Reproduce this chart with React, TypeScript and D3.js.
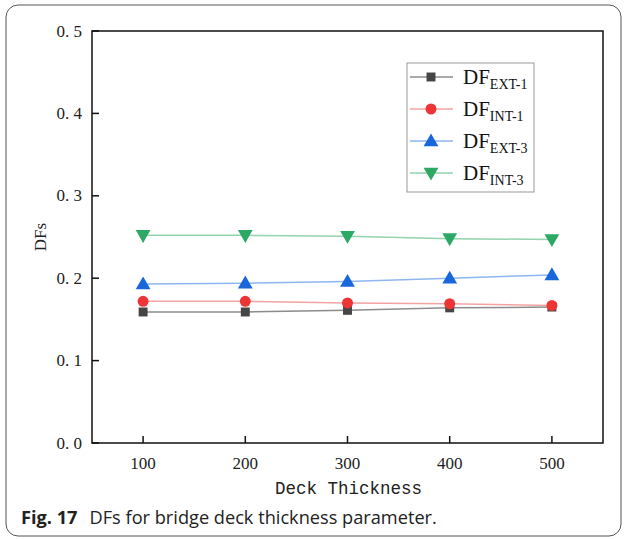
import React from "react";
import * as d3 from "d3";

const thickness = [100, 200, 300, 400, 500];
const dfExt1 = [0.159, 0.159, 0.161, 0.164, 0.165];
const dfInt1 = [0.172, 0.172, 0.170, 0.169, 0.167];
const dfExt3 = [0.193, 0.194, 0.196, 0.200, 0.204];
const dfInt3 = [0.252, 0.252, 0.251, 0.248, 0.247];
const yTicks = [0, 0.1, 0.2, 0.3, 0.4, 0.5];
const xTicks = [100, 200, 300, 400, 500];
const seriesNames = ["EXT-1", "INT-1", "EXT-3", "INT-3"];

const W = 626, H = 539;
const M = { left: 92, right: 603, top: 31, bottom: 443 };

const series = [
  { name: seriesNames[0], values: dfExt1, line: "#8c8c8c", fill: "#454545", symbol: d3.symbolSquare, rot: 0, size: 80 },
  { name: seriesNames[1], values: dfInt1, line: "#f3a3a3", fill: "#ee3535", symbol: d3.symbolCircle, rot: 0, size: 95 },
  { name: seriesNames[2], values: dfExt3, line: "#8fb6ee", fill: "#1a67dc", symbol: d3.symbolTriangle, rot: 0, size: 95 },
  { name: seriesNames[3], values: dfInt3, line: "#93d3ad", fill: "#2ea865", symbol: d3.symbolTriangle, rot: 180, size: 95 },
];

const fmtTick = (t: number) => d3.format(".1f")(t).replace(".", ". ");

export default function App() {
  const x = d3.scaleLinear().domain([50, 550]).range([M.left, M.right]);
  const y = d3.scaleLinear().domain([0, 0.5]).range([M.bottom, M.top]);
  const tickFont = "'Liberation Serif', serif";

  return (
    <svg width={W} height={H} style={{ position: "absolute", left: 0, top: 0, background: "#fff" }}>
      <rect x={6} y={5} width={615} height={531} rx={12} fill="none" stroke="#555" strokeWidth={1} />
      <rect x={M.left} y={M.top} width={M.right - M.left} height={M.bottom - M.top} fill="none" stroke="#111" strokeWidth={1.5} />
      {yTicks.map((t) => (
        <g key={"y" + t}>
          <line x1={M.left} x2={M.left + 7} y1={y(t)} y2={y(t)} stroke="#111" strokeWidth={1.5} />
          <text x={M.left - 10} y={y(t)} textAnchor="end" dominantBaseline="central" fontFamily={tickFont} fontSize={17} fill="#222" style={{ whiteSpace: "pre" }}>
            {fmtTick(t)}
          </text>
        </g>
      ))}
      {xTicks.map((t) => (
        <g key={"x" + t}>
          <line x1={x(t)} x2={x(t)} y1={M.bottom} y2={M.bottom - 7} stroke="#111" strokeWidth={1.5} />
          <text x={x(t)} y={M.bottom + 20} textAnchor="middle" dominantBaseline="central" fontFamily={tickFont} fontSize={17} fill="#222">
            {t}
          </text>
        </g>
      ))}
      <text x={(M.left + M.right) / 2 + 1} y={489} textAnchor="middle" dominantBaseline="central" fontFamily="'Liberation Mono', monospace" fontSize={17.5} fill="#222">
        Deck Thickness
      </text>
      <text transform={`translate(40,${y(0.25)}) rotate(-90)`} textAnchor="middle" dominantBaseline="central" fontFamily="'Liberation Serif', serif" fontSize={17} fill="#222">
        DFs
      </text>
      {series.map((s) => {
        const line = d3.line<number>().x((_, i) => x(thickness[i])).y((v) => y(v));
        const sym = d3.symbol().type(s.symbol).size(s.size)();
        return (
          <g key={s.name}>
            <path d={line(s.values) || ""} fill="none" stroke={s.line} strokeWidth={1.5} />
            {s.values.map((v, i) => (
              <path key={i} d={sym || ""} transform={`translate(${x(thickness[i])},${y(v) + (s.symbol === d3.symbolTriangle ? (s.rot ? -1 : 1) : 0)}) rotate(${s.rot})`} fill={s.fill} />
            ))}
          </g>
        );
      })}
      <rect x={407} y={63} width={127} height={129} fill="#fff" stroke="#999" strokeWidth={1} />
      {series.map((s, i) => {
        const cy = 77 + i * 32;
        const sym = d3.symbol().type(s.symbol).size(s.size)();
        return (
          <g key={"lg" + s.name}>
            <line x1={410} x2={453} y1={cy} y2={cy} stroke={s.line} strokeWidth={1.5} />
            <path d={sym || ""} transform={`translate(431,${cy + (s.symbol === d3.symbolTriangle ? (s.rot ? -1 : 1) : 0)}) rotate(${s.rot})`} fill={s.fill} />
            <text x={463} y={cy + 7} fontFamily="'Liberation Serif', serif" fontSize={21} fill="#111">
              DF
              <tspan fontSize={14} dy={5}>{s.name}</tspan>
            </text>
          </g>
        );
      })}
      <text x={21} y={524} fontFamily="'Open Sans', sans-serif" fontSize={18.2} fill="#222">
        <tspan fontWeight="bold">Fig. 17</tspan>
        <tspan dx={12}>DFs for bridge deck thickness parameter.</tspan>
      </text>
    </svg>
  );
}
